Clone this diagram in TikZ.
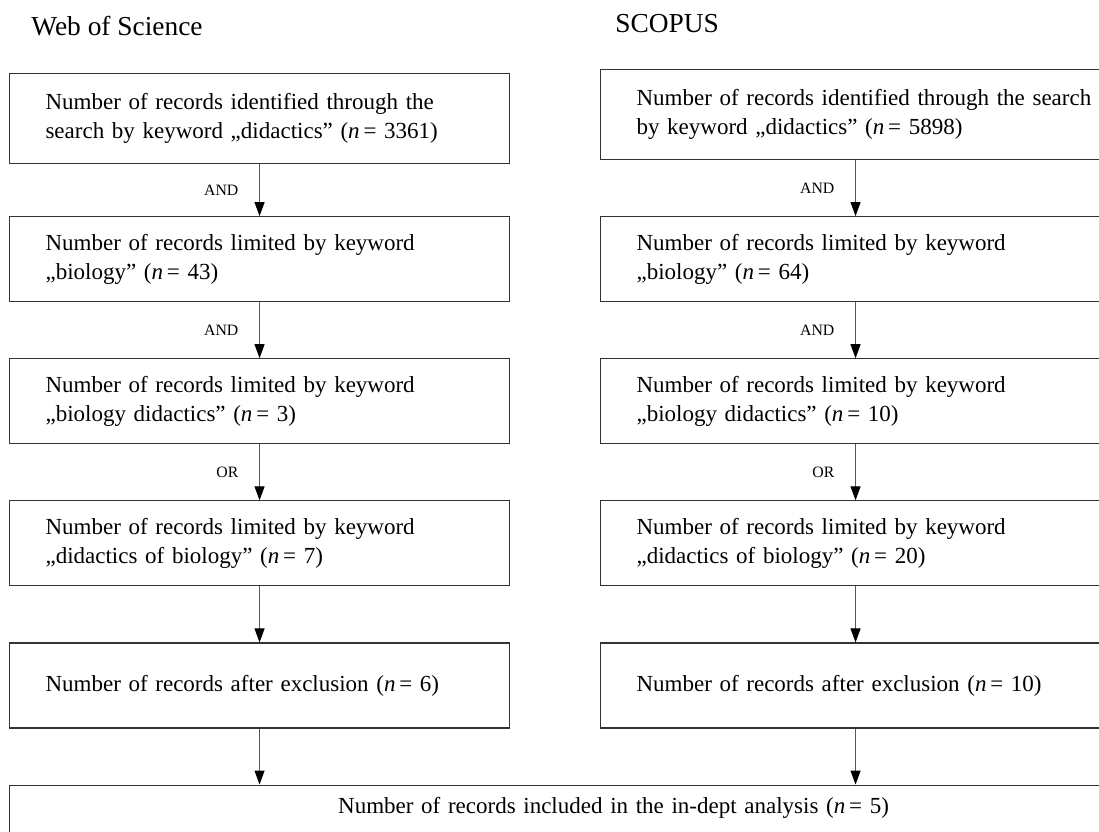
\documentclass[tikz,border=0pt]{standalone}
\usepackage{fontspec}
\setmainfont{Liberation Serif}
\usetikzlibrary{positioning,arrows.meta}

\begin{document}
\begin{tikzpicture}[
    x=0.5pt, y=-0.5pt,
    node distance=28pt,
    box/.style={rectangle, draw=black!80, line width=0.55pt, minimum width=250pt, minimum height=42.5pt, text width=214pt, inner xsep=18pt, align=left, font=\fontsize{11.5}{14.3}\selectfont},
    widebox/.style={box, minimum width=255pt, text width=219pt},
    title/.style={anchor=base west, inner sep=0pt, font=\fontsize{13.7}{16}\selectfont},
    op/.style={midway, left=7pt, font=\fontsize{7.9}{9.5}\selectfont},
    arrow/.style={-{Triangle[length=7pt,width=5pt,color=black]}, draw=black!65, line width=0.5pt}
]
\path[use as bounding box] (0,0) rectangle (1099,831);
\clip (0,0) rectangle (1099,831);

% database names
\node[title] (wos) at (31,35) {Web of Science};
\node[title] (scopus) at (615,32) {SCOPUS};

% Web of Science
\node[box, anchor=north west, minimum height=45pt] (l1) at (9,73) {Number of records identified through the\\search by keyword „didactics” (\textit{n}\,= 3361)};
\node[box, below=26pt of l1] (l2) {Number of records limited by keyword\\„biology” (\textit{n}\,= 43)};
\node[box, below=of l2] (l3) {Number of records limited by keyword\\„biology didactics” (\textit{n}\,= 3)};
\node[box, below=of l3] (l4) {Number of records limited by keyword\\„didactics of biology” (\textit{n}\,= 7)};
\node[box, below=of l4] (l5) {Number of records after exclusion (\textit{n}\,= 6)};

% SCOPUS
\node[widebox, anchor=north west, minimum height=45pt] (r1) at (600,69) {\mbox{Number of records identified through the search}\\by keyword „didactics” (\textit{n}\,= 5898)};
\node[widebox, below=of r1] (r2) {Number of records limited by keyword\\„biology” (\textit{n}\,= 64)};
\node[widebox, below=of r2] (r3) {Number of records limited by keyword\\„biology didactics” (\textit{n}\,= 10)};
\node[widebox, below=of r3] (r4) {Number of records limited by keyword\\„didactics of biology” (\textit{n}\,= 20)};
\node[widebox, below=of r4] (r5) {Number of records after exclusion (\textit{n}\,= 10)};

% merged result
\node[box, below=28pt of l5.south west, anchor=north west, minimum width=604pt, text width=568pt, align=center, text height=7pt, text depth=30pt, inner ysep=7pt] (all) {Number of records included in the in-dept analysis (\textit{n}\,= 5)};

\draw[arrow] (l1) -- node[op] {AND} (l2);
\draw[arrow] (l2) -- node[op] {AND} (l3);
\draw[arrow] (l3) -- node[op] {OR} (l4);
\draw[arrow] (l4) -- (l5);
\draw[arrow] (l5) -- (l5 |- all.north);

\draw[arrow] (r1) -- node[op] {AND} (r2);
\draw[arrow] (r2) -- node[op] {AND} (r3);
\draw[arrow] (r3) -- node[op] {OR} (r4);
\draw[arrow] (r4) -- (r5);
\draw[arrow] (r5) -- (r5 |- all.north);

\end{tikzpicture}
\end{document}
